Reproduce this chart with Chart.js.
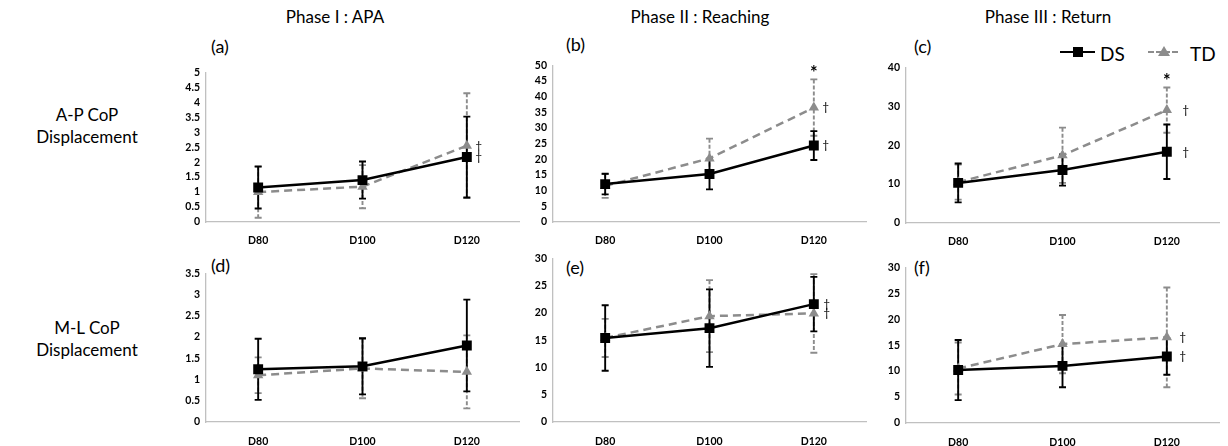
<!DOCTYPE html>
<html><head><meta charset="utf-8">
<script src="https://cdn.jsdelivr.net/npm/chart.js@4.4.1/dist/chart.umd.min.js"></script>
<style>
html,body{margin:0;padding:0;background:#fff;width:1228px;height:446px;overflow:hidden;position:relative;font-family:Lato,"Open Sans",sans-serif;color:#000;}
canvas{position:absolute;}
.t{position:absolute;white-space:nowrap;line-height:1;}
.title{font-size:17px;transform:translateX(-50%);}
.row{font-size:17px;text-align:center;transform:translateX(-50%);line-height:22px;}
.lab{font-size:18px;}
.leg{position:absolute;top:42px;height:20px;font-size:19px;}
.leg span{position:absolute;}
</style></head><body>
<div class="t title" style="left:335px;top:8px;">Phase I : APA</div>
<div class="t title" style="left:700px;top:8px;">Phase II : Reaching</div>
<div class="t title" style="left:1048px;top:8px;">Phase III : Return</div>
<div class="t row" style="left:87px;top:104px;">A-P CoP<br>Displacement</div>
<div class="t row" style="left:87px;top:317px;">M-L CoP<br>Displacement</div>
<div class="t lab" style="left:211px;top:37px;">(a)</div>
<div class="t lab" style="left:566px;top:35px;">(b)</div>
<div class="t lab" style="left:914px;top:37px;">(c)</div>
<div class="t lab" style="left:211px;top:256px;">(d)</div>
<div class="t lab" style="left:566px;top:258px;">(e)</div>
<div class="t lab" style="left:914px;top:258px;">(f)</div>
<div class="leg" style="left:1060px;width:170px;">
  <span style="left:0;top:9px;width:35px;height:0;border-top:2.5px solid #000;"></span>
  <span style="left:13px;top:5px;width:10px;height:10px;background:#000;"></span>
  <span style="left:40px;top:0;">DS</span>
  <span style="left:88px;top:9px;width:30px;height:0;border-top:2.5px dashed #8c8c8c;"></span>
  <span style="left:98px;top:4px;width:0;height:0;border-left:6px solid transparent;border-right:6px solid transparent;border-bottom:10px solid #8c8c8c;"></span>
  <span style="left:130px;top:0;">TD</span>
</div>
<canvas id="ca" width="370" height="195" style="left:160px;top:60px;"></canvas>
<canvas id="cb" width="370" height="202" style="left:507px;top:53px;"></canvas>
<canvas id="cc" width="368" height="201" style="left:860px;top:55px;"></canvas>
<canvas id="cd" width="370" height="194" style="left:160px;top:261px;"></canvas>
<canvas id="ce" width="370" height="209" style="left:507px;top:246px;"></canvas>
<canvas id="cf" width="368" height="201" style="left:860px;top:255px;"></canvas>
<script>
// ---- data ----
const categories = ['D80', 'D100', 'D120'];
// (a) Phase I APA, A-P
const apaApDS = [1.15, 1.40, 2.17];
const apaApDSsd = [0.70, 0.62, 1.35];
const apaApTD = [1.00, 1.18, 2.55];
const apaApTDsd = [0.86, 0.72, 1.75];
// (b) Phase II Reaching, A-P
const reachApDS = [12.1, 15.3, 24.4];
const reachApDSsd = [3.3, 4.9, 4.6];
const reachApTD = [11.5, 20.3, 36.5];
const reachApTDsd = [3.8, 6.3, 9.0];
// (c) Phase III Return, A-P
const retApDS = [10.3, 13.6, 18.3];
const retApDSsd = [5.0, 4.0, 7.0];
const retApTD = [10.5, 17.4, 29.0];
const retApTDsd = [4.5, 7.1, 5.8];
// (d) Phase I APA, M-L
const apaMlDS = [1.24, 1.31, 1.80];
const apaMlDSsd = [0.72, 0.66, 1.08];
const apaMlTD = [1.10, 1.26, 1.18];
const apaMlTDsd = [0.42, 0.70, 0.86];
// (e) Phase II Reaching, M-L
const reachMlDS = [15.4, 17.2, 21.6];
const reachMlDSsd = [6.0, 7.1, 5.0];
const reachMlTD = [15.4, 19.4, 19.9];
const reachMlTDsd = [3.5, 6.6, 7.2];
// (f) Phase III Return, M-L
const retMlDS = [10.2, 11.0, 12.8];
const retMlDSsd = [5.8, 4.1, 3.5];
const retMlTD = [10.5, 15.2, 16.5];
const retMlTDsd = [5.0, 5.6, 9.6];
// y-axis tick definitions (a..f)
const yMax = [5, 50, 40, 3.5, 30, 30];
const yStep = [0.5, 5, 10, 0.5, 5, 5];
// significance marks at D120 (a..f)
const daggerDS = [true, true, true, false, true, true];
const daggerTD = [true, true, true, false, true, true];
const starTD = [false, true, true, false, false, false];

// ---- plugins ----
const errorBars = {
  id: 'errorBars',
  beforeDatasetsDraw(chart) {
    const ctx = chart.ctx, ys = chart.scales.y;
    const order = [1, 0];
    for (const di of order) {
      const ds = chart.data.datasets[di];
      const meta = chart.getDatasetMeta(di);
      ctx.save();
      ctx.strokeStyle = ds.borderColor;
      ctx.lineWidth = 1.9;
      ctx.setLineDash(ds.errDash);
      meta.data.forEach((pt, i) => {
        const v = ds.data[i], e = ds.sd[i];
        const yt = ys.getPixelForValue(v + e), yb = ys.getPixelForValue(Math.max(v - e, 0));
        ctx.beginPath();
        ctx.moveTo(pt.x, yt); ctx.lineTo(pt.x, yb);
        ctx.stroke();
        ctx.setLineDash([]);
        ctx.beginPath();
        ctx.moveTo(pt.x - 3.5, yt); ctx.lineTo(pt.x + 3.5, yt);
        ctx.moveTo(pt.x - 3.5, yb); ctx.lineTo(pt.x + 3.5, yb);
        ctx.stroke();
        ctx.setLineDash(ds.errDash);
      });
      ctx.restore();
    }
  },
  afterDatasetsDraw(chart) {
    const ctx = chart.ctx, ys = chart.scales.y;
    const marks = chart.options.plugins.marks;
    ctx.save();
    ctx.fillStyle = '#000';
    ctx.textBaseline = 'middle';
    ctx.textAlign = 'center';
    chart.data.datasets.forEach((ds, di) => {
      const meta = chart.getDatasetMeta(di);
      const pt = meta.data[2];
      if (ds.dagger) {
        ctx.font = '12px Lato';
        ctx.fillText('\u2020', pt.x + marks.dx, pt.y);
      }
      if (ds.star) {
        ctx.font = 'bold 18px Lato';
        ctx.fillText('*', pt.x, ys.getPixelForValue(ds.data[2] + ds.sd[2]) - 6);
      }
    });
    ctx.restore();
  }
};

const tickFont = {family: 'Lato', size: 10.5, weight: 'bold'};

function makeChart(id, idx, ds, dsSd, td, tdSd, dx, labelPad, rightPad) {
  new Chart(document.getElementById(id), {
    type: 'line',
    data: {
      labels: categories,
      datasets: [
        {label: 'DS', data: ds, sd: dsSd, borderColor: '#000', backgroundColor: '#000',
         borderWidth: 2.5, pointStyle: 'rect', pointRadius: 7, pointBorderWidth: 0,
         errDash: [], dagger: daggerDS[idx], star: false, tension: 0},
        {label: 'TD', data: td, sd: tdSd, borderColor: '#8c8c8c', backgroundColor: '#8c8c8c',
         borderWidth: 2.5, borderDash: [8, 5], pointStyle: 'triangle', pointRadius: 6, pointBorderWidth: 0,
         errDash: [4, 2], dagger: daggerTD[idx], star: starTD[idx], tension: 0}
      ]
    },
    options: {
      responsive: false, animation: false, events: [],
      layout: {padding: {top: 12, right: rightPad, left: 0, bottom: 0}},
      plugins: {legend: {display: false}, tooltip: {enabled: false}, marks: {dx: dx}},
      scales: {
        x: {
          offset: true,
          grid: {display: false, drawTicks: false},
          border: {display: true, color: '#c0c0c0', width: 1.3},
          ticks: {font: tickFont, color: '#000', padding: labelPad, maxRotation: 0, autoSkip: false},
          afterFit(s) { s.height = 33; }
        },
        y: {
          min: 0, max: yMax[idx],
          grid: {display: false, drawTicks: false},
          border: {display: true, color: '#c0c0c0', width: 1.3},
          ticks: {stepSize: yStep[idx], font: tickFont, color: '#000', padding: 6, autoSkip: false,
                  callback: v => String(Math.round(v * 100) / 100)},
          afterFit(s) { s.width = 46; }
        }
      }
    },
    plugins: [errorBars]
  });
}

makeChart('ca', 0, apaApDS, apaApDSsd, apaApTD, apaApTDsd, 12, 12, 11);
makeChart('cb', 1, reachApDS, reachApDSsd, reachApTD, reachApTDsd, 12, 12, 11);
makeChart('cc', 2, retApDS, retApDSsd, retApTD, retApTDsd, 19, 12, 9);
makeChart('cd', 3, apaMlDS, apaMlDSsd, apaMlTD, apaMlTDsd, 12, 13, 11);
makeChart('ce', 4, reachMlDS, reachMlDSsd, reachMlTD, reachMlTDsd, 13, 13, 11);
makeChart('cf', 5, retMlDS, retMlDSsd, retMlTD, retMlTDsd, 16, 13, 9);
</script>
</body></html>
